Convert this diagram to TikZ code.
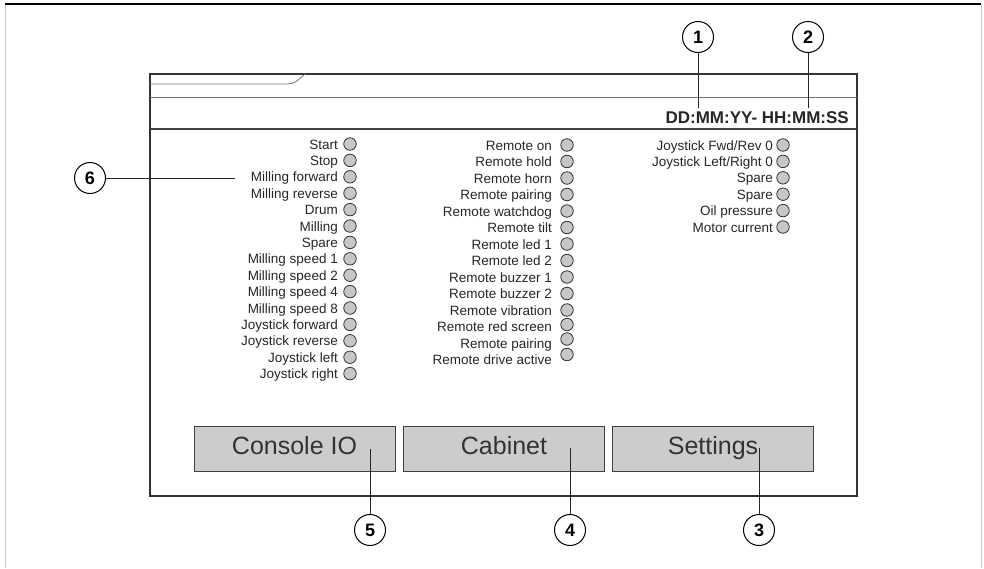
\documentclass[tikz,border=0pt]{standalone}
\usepackage{fontspec}
\setmainfont{Liberation Sans}
\begin{document}
\begin{tikzpicture}[x=1pt,y=-1pt,
  lbl/.style={anchor=base east, inner sep=0pt, font=\fontsize{13.5}{14}\selectfont, text=black!85},
  led/.style={circle, draw=black!80, fill=black!22, minimum size=12.5pt, inner sep=0pt, line width=0.8pt},
  btn/.style={draw=black!75, fill=black!20, line width=1pt, minimum width=201pt, minimum height=45pt, inner sep=0pt, text height=18pt, text depth=7pt, font=\fontsize{25}{26}\selectfont, text=black!80},
  callout/.style={circle, draw=black, line width=1pt, minimum size=31pt, inner sep=0pt, font=\fontsize{18}{18}\selectfont\bfseries},
  lead/.style={line width=0.9pt, draw=black!85}]
\useasboundingbox (0,0) rectangle (984,568);
% outer frame
\draw[black!22, line width=1pt] (5,4) -- (5,568);
\draw[black!22, line width=1pt] (981,4) -- (981,568);
\draw[black, line width=1.4pt] (5,4) -- (981,4);
% screen
\draw[black!80, line width=1.5pt] (150,74) rectangle (857,496);
\draw[black!55, line width=0.8pt] (150,84) -- (288,84) .. controls (295,84) and (298,80) .. (305,74);
\draw[black!55, line width=1pt] (150,97) -- (857,97);
\draw[black!75, line width=1.2pt] (150,129) -- (857,129);
% date
\node[anchor=base east, inner sep=0pt, font=\fontsize{17}{17}\selectfont\bfseries, text=black!85] (date) at (849,123) {DD:MM:YY- HH:MM:SS};
% left column
\foreach \t [count=\i from 0] in {Start,Stop,Milling forward,Milling reverse,Drum,Milling,Spare,Milling speed 1,Milling speed 2,Milling speed 4,Milling speed 8,Joystick forward,Joystick reverse,Joystick left,Joystick right}{
  \node[lbl] (l\i) at (338,{144+16.4*\i+5}) {\t};
  \node[led] (la\i) at (350,{144+16.4*\i}) {};
}
% middle column
\foreach \t/\o [count=\i from 0] in {Remote on/0,Remote hold/0,Remote horn/0,Remote pairing/0,Remote watchdog/0,Remote tilt/0,Remote led 1/0,Remote led 2/0,Remote buzzer 1/0,Remote buzzer 2/0,Remote vibration/0,Remote red screen/-2,Remote pairing/-4,Remote drive active/-5}{
  \node[lbl] (m\i) at (552,{145+16.5*\i+5}) {\t};
  \node[led] (ma\i) at (567,{145+16.5*\i+\o}) {};
}
% right column
\foreach \t [count=\i from 0] in {Joystick Fwd/Rev 0,Joystick Left/Right 0,Spare,Spare,Oil pressure,Motor current}{
  \node[lbl] (r\i) at (773,{145+16.4*\i+5}) {\t};
  \node[led] (ra\i) at (783,{145+16.4*\i}) {};
}
% buttons
\node[btn] (console) at (294.5,448.5) {Console IO};
\node[btn] (cabinet) at (504,448.5) {Cabinet};
\node[btn] (settings) at (713,448.5) {Settings};
% callouts
\node[callout] (c1) at (698,37) {1};
\node[callout] (c2) at (808,37) {2};
\node[callout] (c3) at (759,530) {3};
\node[callout] (c4) at (570,530) {4};
\node[callout] (c5) at (370,530) {5};
\node[callout] (c6) at (90,178) {6};
\coordinate (p1) at (698,108);
\coordinate (p2) at (808,108);
\coordinate (p3) at (759,448);
\coordinate (p4) at (570,448);
\coordinate (p5) at (370,449);
\coordinate (p6) at (235,178);
\draw[lead] (c1.south) -- (p1);
\draw[lead] (c2.south) -- (p2);
\draw[lead] (c3.north) -- (p3);
\draw[lead] (c4.north) -- (p4);
\draw[lead] (c5.north) -- (p5);
\draw[lead] (c6.east) -- (p6);
\end{tikzpicture}
\end{document}
